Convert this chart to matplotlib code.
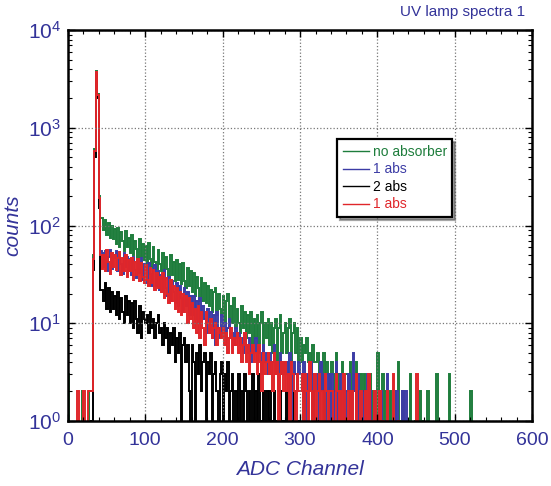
import numpy as np
import matplotlib.pyplot as plt
from matplotlib.ticker import MultipleLocator, LogLocator, NullFormatter

# counts per 2-channel bin (bin i -> channels 2i..2i+2)
green_counts = [3, 0, 0, 0, 0, 0, 0, 0, 0, 2, 0, 0, 0, 0, 2, 2, 50, 600, 3800, 2200, 200, 120,
                120, 90, 115, 80, 105, 75, 100, 72,
                92, 65, 95, 60, 85, 70, 55, 88, 60, 75,
                52, 80, 50, 70, 58, 45, 72, 48, 65, 44,
                62, 40, 66, 45, 38, 60, 42, 36, 56, 40,
                34, 52, 32, 48, 36, 30, 50, 31, 42, 27,
                44, 28, 40, 25, 41, 27, 23, 37, 24, 34,
                21, 33, 19, 30, 23, 17, 29, 17, 26, 16,
                24, 15, 22, 13, 21, 23, 12, 20, 14, 12,
                19, 10, 17, 20, 9, 15, 10, 18, 9, 14,
                10, 8, 15, 9, 13, 7, 12, 8, 13, 6,
                11, 7, 12, 6, 10, 13, 5, 10, 7, 11,
                6, 10, 5, 9, 11, 4, 9, 12, 5, 8,
                10, 5, 9, 11, 4, 8, 10, 5, 9, 4,
                7, 4, 6, 5, 7, 4, 5, 3, 6, 4,
                4, 5, 3, 4, 2, 5, 3, 4, 3, 2,
                4, 3, 2, 5, 3, 1, 3, 4, 2, 3,
                3, 2, 4, 1, 3, 2, 4, 0, 2, 3,
                2, 3, 1, 2, 0, 3, 1, 2, 2, 0,
                5, 0, 1, 3, 0, 2, 1, 0, 2, 0,
                1, 0, 2, 4, 0, 1, 2, 0, 0, 1,
                0, 3, 0, 0, 1, 0, 0, 2, 0, 1,
                0, 0, 2, 0, 0, 0, 0, 0, 3, 0,
                0, 0, 0, 0, 0, 0, 3, 0, 0, 0,
                0, 0, 0, 0, 0, 0, 0, 0, 0, 0,
                2, 0, 0, 0, 0]

blue_counts = [0, 0, 0, 0, 0, 0, 0, 0, 0, 0, 0, 0, 0, 0, 0, 1, 40, 550, 3700, 2100, 180, 55,
               52, 38, 55, 34, 48, 56, 36, 50,
               46, 55, 34, 50, 40, 32, 52, 38, 48, 34,
               45, 31, 48, 35, 29, 43, 33, 46, 28, 40,
               37, 26, 41, 32, 24, 36, 39, 24, 34, 22,
               31, 21, 35, 23, 19, 30, 17, 27, 21, 16,
               26, 15, 24, 18, 13, 23, 15, 21, 12, 19,
               12, 19, 11, 17, 10, 18, 9, 15, 11, 8,
               14, 8, 13, 7, 12, 6, 13, 9, 7, 12,
               8, 10, 7, 9, 11, 7, 8, 6, 9, 7,
               8, 6, 7, 5, 8, 6, 5, 7, 4, 6,
               5, 7, 4, 6, 5, 3, 6, 4, 5, 3,
               5, 3, 4, 6, 3, 4, 2, 5, 3, 4,
               3, 4, 2, 5, 3, 1, 4, 3, 2, 4,
               3, 2, 4, 1, 3, 2, 3, 4, 1, 3,
               2, 3, 1, 4, 2, 3, 0, 2, 3, 1,
               3, 1, 2, 4, 0, 2, 3, 1, 2, 0,
               2, 3, 0, 1, 5, 2, 0, 3, 1, 2,
               0, 2, 1, 3, 0, 2, 0, 1, 2, 0,
               1, 0, 2, 0, 1, 0, 3, 0, 0, 1,
               0, 0, 2, 0, 0, 0, 2, 0, 2, 0,
               0, 0, 0, 0, 0]

black_counts = [0, 0, 0, 0, 0, 0, 0, 0, 0, 0, 0, 0, 0, 0, 0, 1, 35, 500, 3600, 2000, 150, 22,
                22, 17, 26, 14, 23, 13, 21, 14,
                19, 12, 21, 11, 18, 13, 10, 19, 12, 17,
                10, 16, 9, 17, 11, 8, 15, 7, 13, 11,
                10, 12, 8, 13, 9, 11, 7, 10, 12, 8,
                9, 6, 10, 7, 9, 5, 8, 6, 9, 4,
                7, 5, 8, 0, 6, 7, 4, 6, 2, 0,
                6, 4, 1, 5, 3, 6, 2, 4, 5, 1,
                4, 3, 5, 1, 3, 4, 2, 0, 3, 4,
                1, 3, 2, 4, 0, 2, 3, 1, 2, 0,
                3, 1, 2, 0, 3, 2, 0, 2, 1, 3,
                0, 2, 1, 3, 0, 1, 2, 0, 2, 1,
                2, 0, 1, 2, 0, 1, 0, 2, 0, 1,
                0, 2, 0, 0, 1, 0, 2, 0, 0, 1,
                0, 0, 2, 0, 0, 1, 0, 0, 2, 0,
                0, 1, 0, 0, 0, 2, 0, 0, 0, 0,
                0, 0, 1, 0, 0, 0, 0, 0, 0, 0]

red_counts = [0, 0, 0, 0, 0, 0, 2, 0, 0, 0, 2, 0, 0, 2, 2, 2, 45, 580, 3750, 2150, 190, 50,
              36, 50, 34, 56, 42, 32, 52, 38,
              50, 35, 47, 54, 31, 46, 34, 50, 30, 44,
              34, 47, 28, 42, 31, 45, 27, 41, 30, 26,
              39, 28, 24, 37, 26, 35, 22, 33, 23, 30,
              21, 33, 18, 29, 20, 16, 28, 17, 24, 14,
              23, 13, 21, 12, 20, 13, 19, 10, 18, 11,
              16, 9, 14, 8, 15, 7, 13, 9, 6, 13,
              10, 8, 11, 7, 9, 10, 6, 9, 8, 7,
              9, 6, 8, 5, 7, 9, 5, 7, 6, 8,
              5, 7, 4, 6, 8, 4, 6, 3, 5, 6,
              4, 5, 3, 6, 4, 2, 5, 3, 4, 5,
              3, 4, 2, 5, 3, 4, 1, 3, 4, 2,
              4, 2, 3, 1, 4, 3, 2, 0, 3, 2,
              2, 3, 1, 3, 2, 0, 4, 2, 1, 3,
              1, 2, 3, 0, 2, 1, 3, 2, 0, 2,
              2, 0, 1, 3, 2, 0, 2, 1, 3, 0,
              1, 2, 0, 2, 1, 0, 3, 0, 1, 2,
              0, 1, 2, 0, 3, 0, 1, 0, 2, 0,
              0, 2, 0, 1, 0, 0, 2, 0, 0, 0,
              3, 0, 0, 1, 0, 0, 0, 0, 0, 0,
              0, 0, 0, 0, 0, 3, 0, 0, 0, 0,
              0, 0, 0, 0, 0]

labels = ["no absorber", "1 abs", "2 abs", "1 abs"]
colors = ["#1e7d3c", "#3c3ca5", "#000000", "#e0262a"]
series = [green_counts, blue_counts, black_counts, red_counts]

txt = "#333399"
plt.rcParams['font.family'] = ['Liberation Sans', 'DejaVu Sans']

fig = plt.figure(figsize=(5.51, 4.86), dpi=100)
ax = fig.add_axes([0.123, 0.134, 0.843, 0.804])

for vals, col, lab in zip(series, colors, labels):
    vals = np.array(vals, dtype=float)
    edges = np.arange(len(vals) + 1) * 2.0
    ax.stairs(vals, edges, color=col, lw=1.4, label=lab, baseline=None)

ax.set_yscale('log', nonpositive='clip')
ax.set_xlim(0, 600)
ax.set_ylim(1, 1e4)
ax.xaxis.set_major_locator(MultipleLocator(100))
ax.xaxis.set_minor_locator(MultipleLocator(20))
ax.yaxis.set_major_locator(LogLocator(base=10, numticks=10))
ax.yaxis.set_minor_locator(LogLocator(base=10, subs=np.arange(2, 10), numticks=10))
ax.yaxis.set_minor_formatter(NullFormatter())

ax.tick_params(which='both', direction='in', top=True, right=True, colors='black')
ax.tick_params(which='major', length=5, width=1)
ax.tick_params(which='minor', length=3, width=0.8)
ax.tick_params(axis='x', labelsize=14, labelcolor=txt, pad=8)
ax.tick_params(axis='y', labelsize=15, labelcolor=txt, pad=5)
ax.grid(True, which='major', ls=':', color='#777777', lw=0.9)
for s in ax.spines.values():
    s.set_linewidth(1.8)

ax.set_xlabel("ADC Channel", fontsize=15, style='italic', color=txt, labelpad=8)
ax.set_ylabel("counts", fontsize=15, style='italic', color=txt, labelpad=4)
fig.text(0.953, 0.968, "UV lamp spectra 1", fontsize=11, color=txt, ha='right')

leg = ax.legend(loc='upper left', bbox_to_anchor=(0.565, 0.738), fontsize=10,
                frameon=True, fancybox=False, shadow=True, handlelength=1.9,
                handletextpad=0.25, borderpad=0.4, labelspacing=0.25)
leg.get_frame().set_edgecolor('black')
leg.get_frame().set_linewidth(1.6)
for t, col in zip(leg.get_texts(), colors):
    t.set_color(col)
for h in leg.get_lines():
    h.set_linewidth(1.0)

fig.savefig("out.png", dpi=100)
